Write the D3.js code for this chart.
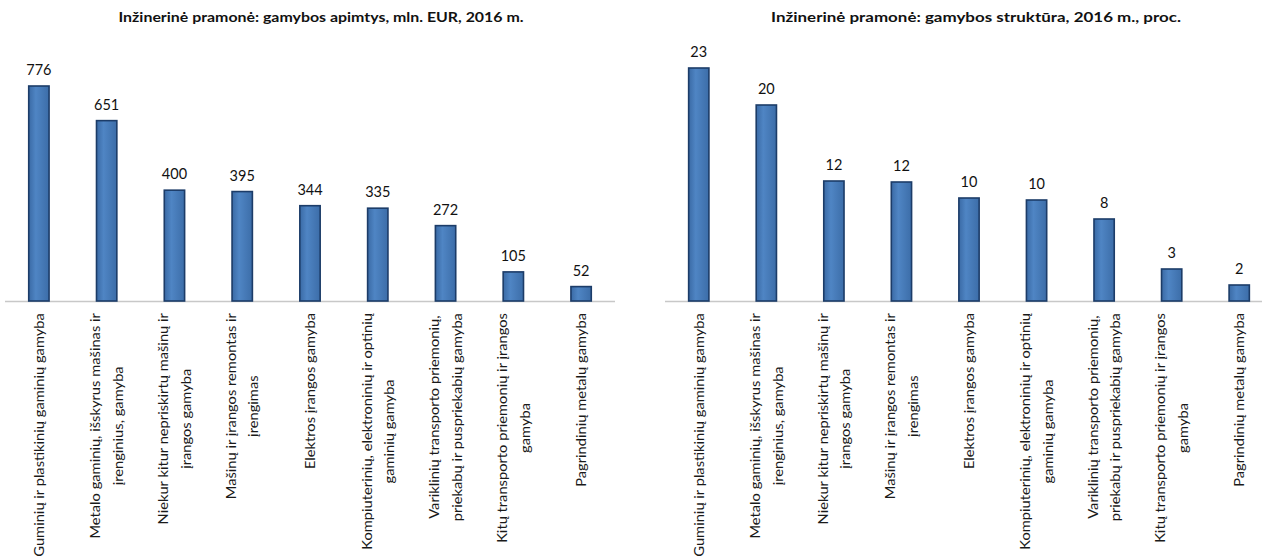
<!DOCTYPE html>
<html>
<head>
<meta charset="utf-8">
<script src="https://cdn.jsdelivr.net/npm/d3@7"></script>
<style>
  html, body { margin: 0; padding: 0; background: #fff; }
  svg { display: block; font-family: Lato, "Open Sans", sans-serif; }
</style>
</head>
<body>
<svg id="chart" width="1262" height="559"></svg>
<script>
// kategorijos (eilutės laužomos kaip paveiksle)
var categories = [
    ["Guminių ir plastikinių gaminių gamyba"],
    ["Metalo gaminių, išskyrus mašinas ir", "įrenginius, gamyba"],
    ["Niekur kitur nepriskirtų mašinų ir", "įrangos gamyba"],
    ["Mašinų ir įrangos remontas ir", "įrengimas"],
    ["Elektros įrangos gamyba"],
    ["Kompiuterinių, elektroninių ir optinių", "gaminių gamyba"],
    ["Variklinių transporto priemonių,", "priekabų ir puspriekabių gamyba"],
    ["Kitų transporto priemonių ir įrangos", "gamyba"],
    ["Pagrindinių metalų gamyba"]
];

// gamybos apimtys, mln. EUR
var volumeValues = [776, 651, 400, 395, 344, 335, 272, 105, 52];
// struktūra, proc. (rodoma suapvalinta)
var shareValues = [23.3, 19.6, 12.0, 11.9, 10.3, 10.1, 8.2, 3.2, 1.6];

var titles = [
    "Inžinerinė pramonė: gamybos apimtys, mln. EUR, 2016 m.",
    "Inžinerinė pramonė: gamybos struktūra, 2016 m., proc."
];

var svg = d3.select("#chart");
var baseY = 301;

// bar gradient
var defs = svg.append("defs");
var grad = defs.append("linearGradient").attr("id", "barGrad")
    .attr("x1", "0%").attr("x2", "100%").attr("y1", "0%").attr("y2", "0%");
grad.append("stop").attr("offset", "0%").attr("stop-color", "#3a6aa5");
grad.append("stop").attr("offset", "35%").attr("stop-color", "#4f85c4");
grad.append("stop").attr("offset", "100%").attr("stop-color", "#3c6da8");

function drawPanel(opt) {
    var g = svg.append("g");
    var x = d3.scaleBand().domain(d3.range(categories.length))
        .range([opt.x0, opt.x1]).paddingInner(0.7).paddingOuter(0.35);
    var y = d3.scaleLinear().domain([0, d3.max(opt.values)]).range([baseY, opt.topY]);

    g.append("text")
        .attr("x", opt.titleX).attr("y", 22)
        .attr("text-anchor", "middle")
        .attr("font-weight", "bold").attr("font-size", "14px")
        .attr("fill", "#111")
        .attr("textLength", opt.titleW).attr("lengthAdjust", "spacingAndGlyphs")
        .text(opt.title);

    // axis line
    g.append("line")
        .attr("x1", opt.x0).attr("x2", opt.lineEnd)
        .attr("y1", baseY + 0.5).attr("y2", baseY + 0.5)
        .attr("stroke", "#c8c8c8").attr("stroke-width", 1.5);

    g.selectAll("rect.bar").data(opt.values).enter().append("rect")
        .attr("class", "bar")
        .attr("x", function (d, i) { return x(i); })
        .attr("y", function (d) { return y(d); })
        .attr("width", x.bandwidth())
        .attr("height", function (d) { return baseY - y(d); })
        .attr("fill", "url(#barGrad)")
        .attr("stroke", "#1c3c68").attr("stroke-width", 1.6);

    g.selectAll("text.val").data(opt.values).enter().append("text")
        .attr("class", "val")
        .attr("x", function (d, i) { return x(i) + x.bandwidth() / 2; })
        .attr("y", function (d) { return y(d) - 11; })
        .attr("text-anchor", "middle")
        .attr("font-size", "14.5px").attr("fill", "#111")
        .text(function (d) { return Math.round(d); });

    // rotated category labels, a bit stretched along the text like the source
    var stretch = 1.05;
    categories.forEach(function (lines, i) {
        var cx = x(i) + x.bandwidth() / 2;
        var lg = g.append("g");
        var pitch = 22.5;
        var t = lg.append("text")
            .attr("text-anchor", "middle")
            .attr("font-size", "14px").attr("fill", "#1a1a1a");
        lines.forEach(function (s, k) {
            t.append("tspan").attr("x", 0)
                .attr("y", (k - (lines.length - 1) / 2) * pitch + 5)
                .text(s);
        });
        var w = 0;
        t.selectAll("tspan").each(function () { w = Math.max(w, this.getComputedTextLength()); });
        lg.attr("transform", "translate(" + cx + "," + (baseY + 12 + w * stretch / 2) + ") rotate(-90) scale(" + stretch + ",1)");
    });
}

drawPanel({ x0: 5, x1: 615, lineEnd: 615, topY: 86, values: volumeValues, title: titles[0], titleX: 321, titleW: 405 });
drawPanel({ x0: 665, x1: 1273, lineEnd: 1262, topY: 68, values: shareValues, title: titles[1], titleX: 976, titleW: 410 });
</script>
</body>
</html>
